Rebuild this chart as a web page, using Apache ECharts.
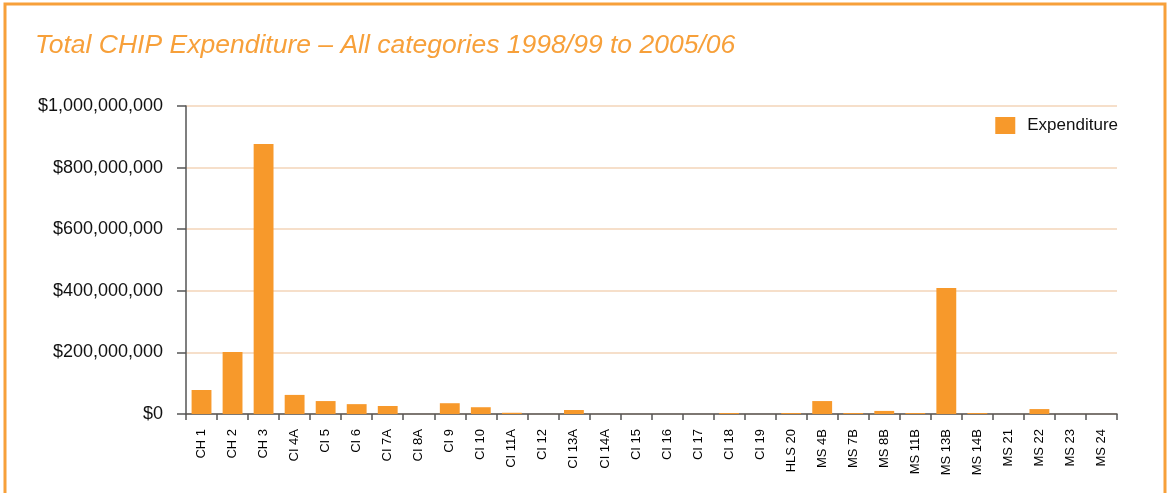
<!DOCTYPE html>
<html>
<head>
<meta charset="utf-8">
<script src="https://cdn.jsdelivr.net/npm/echarts@6/dist/echarts.min.js"></script>
<style>
html,body{margin:0;padding:0;background:#fff;}
#c{width:1174px;height:493px;}
</style>
</head>
<body>
<div id="c"></div>
<script>
const categories = ["CH 1","CH 2","CH 3","CI 4A","CI 5","CI 6","CI 7A","CI 8A","CI 9","CI 10","CI 11A","CI 12","CI 13A","CI 14A","CI 15","CI 16","CI 17","CI 18","CI 19","HLS 20","MS 4B","MS 7B","MS 8B","MS 11B","MS 13B","MS 14B","MS 21","MS 22","MS 23","MS 24"];
const expenditure = [78000000,201000000,877000000,62000000,42000000,32000000,26000000,0,35000000,22000000,4000000,0,13000000,0,0,0,0,3000000,0,3000000,42000000,3000000,10000000,3000000,409000000,3000000,0,16000000,0,0];
const yTicks = { min: 0, max: 1000000000, interval: 200000000 };
const titleText = "Total CHIP Expenditure \u2013 All categories 1998/99 to 2005/06";
const seriesName = "Expenditure";

const chart = echarts.init(document.getElementById('c'), null, {renderer:'canvas'});
const orange = '#F7992B';
chart.setOption({
  animation: false,
  backgroundColor: '#fff',
  graphic: [{
    type: 'rect', silent: true, z: -1,
    shape: { x: 5, y: 4, width: 1160, height: 530 },
    style: { fill: 'none', stroke: '#F7A03A', lineWidth: 3 }
  }],
  title: {
    text: titleText, left: 30, top: 27,
    textStyle: { fontFamily: 'Liberation Sans', fontStyle: 'italic', fontWeight: 'normal', fontSize: 26.5, color: '#F7A03A' }
  },
  legend: {
    right: 56, top: 117, padding: 0, itemWidth: 20, itemHeight: 17, itemGap: 10,
    textStyle: { fontFamily: 'Liberation Sans', fontSize: 17, color: '#111', padding: [0, 0, 0, 7] },
    data: [{ name: seriesName, icon: 'rect' }]
  },
  grid: { left: 186, right: 57, top: 106, bottom: 79, containLabel: false },
  xAxis: {
    type: 'category', data: categories, boundaryGap: true,
    axisLine: { lineStyle: { color: '#555', width: 1.5 } },
    axisTick: { show: true, length: 6, alignWithLabel: false, lineStyle: { color: '#555', width: 1.5 } },
    axisLabel: { rotate: 90, interval: 0, margin: 15, fontFamily: 'Liberation Sans', fontSize: 13, color: '#000' }
  },
  yAxis: {
    type: 'value', min: yTicks.min, max: yTicks.max, interval: yTicks.interval,
    axisLine: { show: true, lineStyle: { color: '#555', width: 1.5 } },
    axisTick: { show: true, length: 9, lineStyle: { color: '#555', width: 1.5 } },
    splitLine: { lineStyle: { color: '#F3D5B8', width: 1.5 } },
    axisLabel: {
      margin: 23, fontFamily: 'Liberation Sans', fontSize: 18, color: '#111',
      formatter: v => '$' + v.toLocaleString('en-US')
    }
  },
  series: [{
    name: seriesName, type: 'bar', data: expenditure, barWidth: '64%',
    itemStyle: { color: orange }
  }]
});
</script>
</body>
</html>
